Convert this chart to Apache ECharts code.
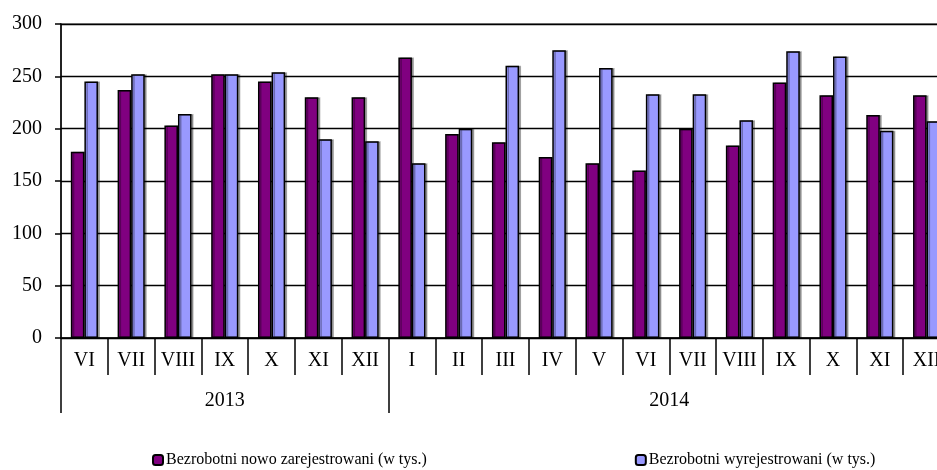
<!DOCTYPE html>
<html>
<head>
<meta charset="utf-8">
<script src="https://cdn.jsdelivr.net/npm/echarts@6/dist/echarts.min.js"></script>
<style>html,body{margin:0;padding:0;background:#fff;}#c{width:937px;height:470px;}</style>
</head>
<body>
<div id="c"></div>
<script>
var months = ['VI','VII','VIII','IX','X','XI','XII','I','II','III','IV','V','VI','VII','VIII','IX','X','XI','XII'];
var years = ['2013','2014'];
var yearSizes = [7, 12];
var nowoZarejestrowani = [178,237,203,252,245,230,230,268,195,187,173,167,160,200,184,244,232,213,232];
var wyrejestrowani = [245,252,214,252,254,190,188,167,200,260,275,258,233,233,208,274,269,198,207];
var seriesNames = ['Bezrobotni nowo zarejestrowani (w tys.)','Bezrobotni wyrejestrowani (w tys.)'];

var yearTicks = [0], yearCenters = [], acc = 0;
for (var i = 0; i < yearSizes.length; i++) {
  yearCenters.push(acc + yearSizes[i] / 2);
  acc += yearSizes[i];
  yearTicks.push(acc);
}
var FONT = '"Liberation Serif", "Times New Roman", serif';
var chart = echarts.init(document.getElementById('c'), null, {renderer: 'canvas'});
chart.setOption({
  animation: false,
  backgroundColor: '#fff',
  grid: {left: 61, top: 24, width: 889, height: 314, show: true, borderColor: '#8c8c8c', borderWidth: 2, backgroundColor: '#fff', containLabel: false, outerBoundsMode: 'none'},
  legend: {
    left: 152, top: 452, padding: 0, itemWidth: 10, itemHeight: 10, itemGap: 208,
    textStyle: {fontFamily: FONT, fontSize: 16, color: '#000', padding: [0, 0, 0, -2]},
    data: seriesNames
  },
  xAxis: [{
    type: 'category', data: months, position: 'bottom',
    axisLine: {show: true, lineStyle: {color: '#000', width: 1.5}},
    axisTick: {show: true, interval: 0, length: 37, lineStyle: {color: '#000', width: 1.5}},
    axisLabel: {fontFamily: FONT, fontSize: 20, color: '#000', margin: 13, interval: 0},
    splitLine: {show: false}
  }, {
    type: 'value', min: 0, max: months.length, position: 'bottom',
    axisLine: {show: false},
    axisTick: {show: true, customValues: yearTicks, length: 75, lineStyle: {color: '#000', width: 1.5}},
    axisLabel: {customValues: yearCenters, fontFamily: FONT, fontSize: 20, color: '#000', margin: 53,
      formatter: function (v) { var k = yearCenters.indexOf(v); return k >= 0 ? years[k] : ''; }},
    splitLine: {show: false}
  }],
  yAxis: {
    type: 'value', min: 0, max: 300, interval: 50,
    axisLine: {show: true, lineStyle: {color: '#000', width: 1.5}},
    axisTick: {show: true, length: 6, lineStyle: {color: '#000', width: 1.5}},
    axisLabel: {fontFamily: FONT, fontSize: 20, color: '#000', margin: 19},
    splitLine: {show: true, lineStyle: {color: '#000', width: 1.3}}
  },
  series: [{
    name: seriesNames[0], type: 'bar', data: nowoZarejestrowani, xAxisIndex: 0,
    barGap: '0%', barCategoryGap: '42%',
    itemStyle: {color: '#800080', borderColor: '#000', borderWidth: 1.5,
      shadowColor: 'rgba(0,0,0,0.3)', shadowOffsetX: 2, shadowOffsetY: 0, shadowBlur: 0}
  }, {
    name: seriesNames[1], type: 'bar', data: wyrejestrowani, xAxisIndex: 0,
    barGap: '0%', barCategoryGap: '42%',
    itemStyle: {color: '#9999FF', borderColor: '#000', borderWidth: 1.5,
      shadowColor: 'rgba(0,0,0,0.3)', shadowOffsetX: 2, shadowOffsetY: 0, shadowBlur: 0}
  }]
});
</script>
</body>
</html>
